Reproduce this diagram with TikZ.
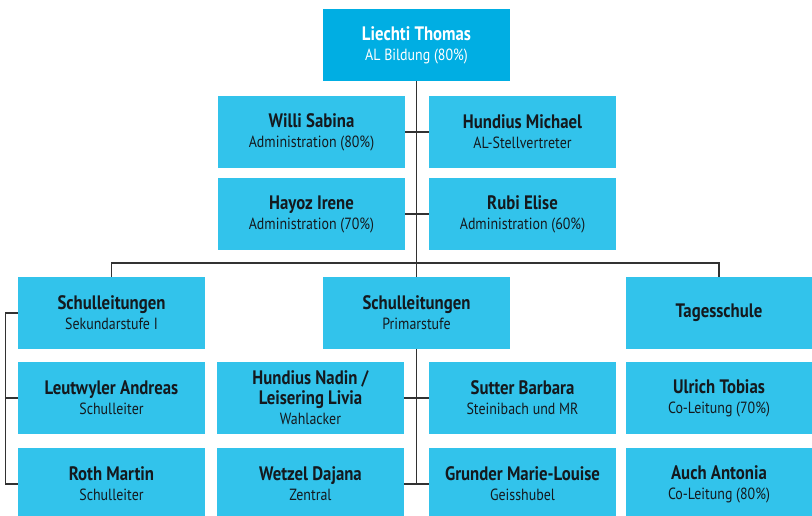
\documentclass[tikz,border=0pt]{standalone}
\usepackage{fontspec}
\setmainfont{PT Sans}[FakeStretch=0.86]

\definecolor{boxblue}{RGB}{50,195,235}
\definecolor{headblue}{RGB}{0,174,227}
\definecolor{linegray}{RGB}{50,50,50}
\definecolor{textdark}{RGB}{20,25,30}

\tikzset{
	card/.style = {fill = boxblue, text = textdark, minimum width = 187, minimum height = 72,
		inner sep = 0, align = center, font = \fontsize{16.2}{20}\selectfont},
	headcard/.style = {card, fill = headblue, text = white},
	link/.style = {draw = linegray, line width = 1.1pt}
}

\newcommand{\who}[2]{{\bfseries\fontsize{19.5}{20}\selectfont #1}\\#2}
\newcommand{\bold}[1]{{\bfseries\fontsize{19.5}{21}\selectfont #1}}

\begin{document}
\begin{tikzpicture}[x = 1pt, y = -1pt]

	% Definitions

	\def\colL{111.5}	% left column (Sekundarstufe)
	\def\colA{311.5}	% inner left column
	\def\colAb{310.5}	% inner left column, lower rows
	\def\colM{416.5}	% middle axis
	\def\colB{522.5}	% inner right column
	\def\colR{719}		% right column (Tagesschule)

	\useasboundingbox (0, 0) rectangle (812, 516);


	% Leitung und Stab

	\node [headcard] (lead) at (\colM, 45) {\who{Liechti Thomas}{AL Bildung (80\%)}};

	\node [card] (willi)   at (\colA, 132) {\who{Willi Sabina}{Administration (80\%)}};
	\node [card] (michael) at (\colB, 132) {\who{Hundius Michael}{AL-Stellvertreter}};
	\node [card] (hayoz)   at (\colA, 214) {\who{Hayoz Irene}{Administration (70\%)}};
	\node [card] (rubi)    at (\colB, 214) {\who{Rubi Elise}{Administration (60\%)}};


	% Bereiche

	\node [card] (sek)   at (\colL, 313) {\who{Schulleitungen}{Sekundarstufe I}};
	\node [card] (prim)  at (\colM, 313) {\who{Schulleitungen}{Primarstufe}};
	\node [card, minimum width = 186] (tages) at (\colR, 313) {\bold{Tagesschule}};


	% Schulleitungen und Leitungen

	\node [card] (leut)    at (\colL, 398) {\who{Leutwyler Andreas}{Schulleiter}};
	\node [card] (roth)    at (\colL, 484) {\who{Roth Martin}{Schulleiter}};

	\node [card] (nadin)   at (\colAb, 398) {\bold{Hundius Nadin /}\\\bold{Leisering Livia}\\Wahlacker};
	\node [card] (wetzel)  at (\colAb, 484) {\who{Wetzel Dajana}{Zentral}};
	\node [card] (sutter)  at (\colB, 398) {\who{Sutter Barbara}{Steinibach und MR}};
	\node [card] (grunder) at (\colB, 484) {\who{Grunder Marie-Louise}{Geisshubel}};

	\node [card, minimum width = 186] (ulrich) at (\colR, 398) {\who{Ulrich Tobias}{Co-Leitung (70\%)}};
	\node [card, minimum width = 186] (auch)   at (\colR, 484) {\who{Auch Antonia}{Co-Leitung (80\%)}};


	% Verbindungen

	\coordinate (bus) at (\colM, 263);

	\begin{scope}[link]

		\draw (lead.south) -- (prim.north);
		\draw (willi.east) -- (michael.west);
		\draw (hayoz.east) -- (rubi.west);
		\draw (sek.north) |- (bus) -| (tages.north);

		\draw (prim.south) -- (prim.south |- wetzel.east);
		\draw (nadin.east) -- (sutter.west);
		\draw (wetzel.east) -- (grunder.west);

		\draw (sek.west) -- ++(-12.5, 0) |- (roth.west);
		\draw (leut.west) -- ++(-12.5, 0);

	\end{scope}

\end{tikzpicture}
\end{document}
